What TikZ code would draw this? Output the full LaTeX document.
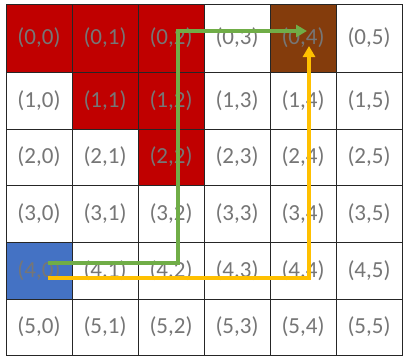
\documentclass[tikz,border=0pt]{standalone}
\usepackage{fontspec}
\setmainfont{Carlito}
\usetikzlibrary{arrows.meta,calc}
\definecolor{cellred}{HTML}{C00000}
\definecolor{cellbrown}{HTML}{843C0C}
\definecolor{cellblue}{HTML}{4472C4}
\definecolor{routegreen}{HTML}{70AD47}
\definecolor{routeyellow}{HTML}{FFC000}
\definecolor{labelgray}{HTML}{767676}
\tikzset{
  tint 0-0/.style={fill=cellred},tint 0-1/.style={fill=cellred},tint 0-2/.style={fill=cellred},
  tint 1-1/.style={fill=cellred},tint 1-2/.style={fill=cellred},tint 2-2/.style={fill=cellred},
  tint 0-4/.style={fill=cellbrown},tint 4-0/.style={fill=cellblue}
}
\begin{document}
\begin{tikzpicture}[x=1pt,y=-1pt,>={Triangle[length=11pt,width=12pt]},
  cell/.style={draw=black!85,line width=0.8pt,fill=white,minimum width=66pt,inner sep=0pt,
    text=labelgray,font=\fontsize{23}{23}\selectfont},
  route/.style={line width=3.6pt}]
\useasboundingbox (0,0) rectangle (404,357);
% grid of cells, row tops and heights in px
\foreach \r/\top/\h in {0/4/68,1/72/57,2/129/56,3/185/57,4/242/57,5/299/56}{
  \foreach \c in {0,...,5}{
    \node[cell,minimum height=\h pt,tint \r-\c/.try] (cell-\r-\c) at ({39+66*\c},{\top+\h/2}) {(\r,\c)};
  }
}
% routes
\coordinate (gstart) at (48,263);
\coordinate (gbend) at (178,31);
\coordinate (gend) at (307,31);
\coordinate (ystart) at (48,278);
\coordinate (yend) at (309,46);
\draw[route,routegreen,->] (gstart) -| (gbend) -- (gend);
\draw[route,routeyellow,->] (ystart) -| (yend);
\end{tikzpicture}
\end{document}
